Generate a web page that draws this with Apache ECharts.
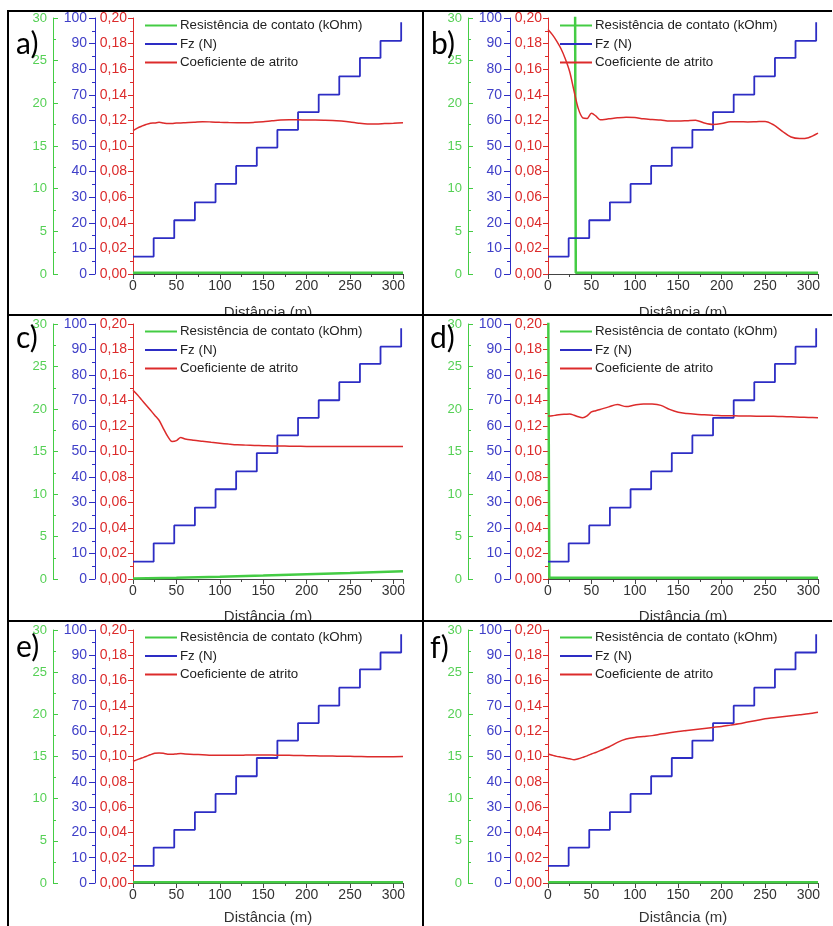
<!DOCTYPE html>
<html>
<head>
<meta charset="utf-8">
<script src="https://cdn.jsdelivr.net/npm/echarts@6/dist/echarts.min.js"></script>
<style>
  html, body { margin: 0; padding: 0; background: #fff; }
  #main { width: 833px; height: 926px; }
</style>
</head>
<body>
<div id="main"></div>
<script>
  // distancia (m) comum as curvas de atrito
  const distancia = [0, 5, 10, 15, 20, 25, 30, 35, 40, 45, 50, 55, 60, 70, 80, 90, 100, 110, 120, 130,
    140, 150, 160, 170, 180, 190, 200, 210, 220, 230, 240, 250, 260, 270, 280, 290, 300, 311]

  const atritoA = [0.112, 0.114, 0.1155, 0.1168, 0.1178, 0.118, 0.1185, 0.118, 0.1175, 0.1175, 0.118, 0.118, 0.1182,
    0.1185, 0.119, 0.1188, 0.1185, 0.1183, 0.1182, 0.1182, 0.1185, 0.119, 0.1197, 0.1203, 0.1205, 0.1205, 0.1203,
    0.1203, 0.1202, 0.12, 0.1195, 0.1188, 0.1178, 0.1172, 0.1172, 0.1175, 0.1178, 0.1182]
  const atritoB = [0.191, 0.187, 0.182, 0.176, 0.168, 0.158, 0.143, 0.129, 0.122, 0.1215, 0.1255, 0.1235, 0.1205,
    0.1212, 0.122, 0.1225, 0.1222, 0.1212, 0.1207, 0.1203, 0.1195, 0.1195, 0.1198, 0.1202, 0.118, 0.1168, 0.1175,
    0.119, 0.119, 0.1188, 0.119, 0.1192, 0.1165, 0.1115, 0.107, 0.1058, 0.1065, 0.110]
  const atritoC = [0.148, 0.1445, 0.1405, 0.1365, 0.1325, 0.1285, 0.1245, 0.118, 0.1118, 0.1078, 0.1085, 0.111, 0.1098,
    0.1088, 0.108, 0.1072, 0.1065, 0.1058, 0.1052, 0.105, 0.1048, 0.1046, 0.1044, 0.1043, 0.1042, 0.1041, 0.104,
    0.104, 0.104, 0.104, 0.104, 0.104, 0.104, 0.104, 0.104, 0.104, 0.104, 0.104]
  const atritoD = [0.1278, 0.128, 0.1286, 0.129, 0.1292, 0.1294, 0.1285, 0.1272, 0.1265, 0.128, 0.131, 0.132, 0.133,
    0.135, 0.1368, 0.1352, 0.1365, 0.1373, 0.1372, 0.1362, 0.133, 0.1308, 0.1298, 0.1292, 0.1288, 0.1284, 0.1281,
    0.128, 0.1279, 0.1278, 0.1277, 0.1277, 0.1276, 0.1274, 0.1272, 0.1269, 0.1267, 0.1265]
  const atritoE = [0.0962, 0.0975, 0.0988, 0.1, 0.1014, 0.1025, 0.1028, 0.1025, 0.1018, 0.1017, 0.102, 0.1023, 0.102,
    0.1016, 0.1014, 0.101, 0.1009, 0.101, 0.101, 0.1011, 0.1012, 0.1012, 0.1011, 0.101, 0.1009, 0.1008, 0.1006,
    0.1005, 0.1004, 0.1003, 0.1002, 0.1001, 0.1, 0.0999, 0.0999, 0.0999, 0.0999, 0.1]
  const atritoF = [0.102, 0.101, 0.1001, 0.0995, 0.0988, 0.0982, 0.0975, 0.0982, 0.0993, 0.1005, 0.102, 0.1032, 0.1046,
    0.1075, 0.1112, 0.1138, 0.1151, 0.1158, 0.1165, 0.1177, 0.1188, 0.1198, 0.1206, 0.1214, 0.1222, 0.123, 0.1238,
    0.1248, 0.1258, 0.1272, 0.1285, 0.1298, 0.1306, 0.1314, 0.1322, 0.133, 0.1338, 0.135]

  // Fz (N) em degraus
  const fzDist = [0, 23.8, 47.5, 71.3, 95.1, 118.8, 142.6, 166.3, 190.1, 213.9, 237.6, 261.4, 285.1, 308.9]
  const fz = [6.8, 14, 21, 28, 35.2, 42.2, 49.4, 56.3, 63.2, 70.1, 77.2, 84.4, 91.1, 98.3]

  // resistencia de contato (kOhm)
  const resistDistA = [0, 311]
  const resistA = [0.15, 0.15]
  const resistDistB = [0, 31, 32, 311]
  const resistB = [40, 40, 0.15, 0.15]
  const resistDistC = [0, 50, 100, 150, 200, 250, 311]
  const resistC = [0.05, 0.15, 0.27, 0.4, 0.55, 0.7, 0.92]
  const resistDistD = [0, 1.5, 311]
  const resistD = [40, 0.15, 0.15]
  const resistDistE = [0, 311]
  const resistE = [0.1, 0.1]
  const resistDistF = [0, 311]
  const resistF = [0.1, 0.1]

  const rotulos = ['a)', 'b)', 'c)', 'd)', 'e)', 'f)']
  const nomes = ['Resistência de contato (kOhm)', 'Fz (N)', 'Coeficiente de atrito']

  const paineis = [
    { atrito: atritoA, rDist: resistDistA, r: resistA },
    { atrito: atritoB, rDist: resistDistB, r: resistB },
    { atrito: atritoC, rDist: resistDistC, r: resistC },
    { atrito: atritoD, rDist: resistDistD, r: resistD },
    { atrito: atritoE, rDist: resistDistE, r: resistE },
    { atrito: atritoF, rDist: resistDistF, r: resistF }
  ]

  const VERDE = '#44cc44'
  const AZUL = '#2d2dc4'
  const VERMELHO = '#dc2b2b'
  const FONTE = '"Liberation Sans", Arial, sans-serif'

  const colLeft = [133, 548]
  const rowTop = [18, 324, 630]
  const rowHeight = [256, 255, 254]
  const nameGaps = [31, 30, 27]
  const rotuloPos = [[16, 44.5], [431, 44], [16, 338], [430, 338], [16, 647], [430, 648]]

  const zip = (xs, ys) => xs.map((x, i) => [x, ys[i]])

  const grid = []
  const xAxis = []
  const yAxis = []
  const series = []
  const legend = []
  const graphic = []

  paineis.forEach((p, i) => {
    const col = i % 2
    const row = Math.floor(i / 2)
    grid.push({ left: colLeft[col], top: rowTop[row], width: 270, height: rowHeight[row] })

    xAxis.push({
      type: 'value', gridIndex: i, min: 0, max: 311, interval: 50,
      name: 'Distância (m)', nameLocation: 'middle', nameGap: nameGaps[row],
      nameTextStyle: { color: '#333', fontSize: 15, fontFamily: FONTE },
      axisLine: { onZero: false, lineStyle: { color: '#444' } },
      axisTick: { length: 5, lineStyle: { color: '#444' } },
      minorTick: { show: true, splitNumber: 2, length: 3, lineStyle: { color: '#444' } },
      axisLabel: {
        color: '#333', fontSize: 14, fontFamily: FONTE, margin: 5, showMaxLabel: false,
        formatter: v => (v % 50 === 0 ? String(v) : '')
      },
      splitLine: { show: false }
    })

    // eixo vermelho (atrito)
    yAxis.push({
      type: 'value', gridIndex: i, position: 'left', offset: 0, min: 0, max: 0.2, interval: 0.02,
      axisLine: { show: true, lineStyle: { color: VERMELHO } },
      axisTick: { show: true, length: 5, lineStyle: { color: VERMELHO } },
      minorTick: { show: true, splitNumber: 2, length: 3, lineStyle: { color: VERMELHO } },
      axisLabel: { color: VERMELHO, fontSize: 14, fontFamily: FONTE, margin: 6,
        formatter: v => v.toFixed(2).replace('.', ',') },
      splitLine: { show: false }
    })
    // eixo azul (Fz)
    yAxis.push({
      type: 'value', gridIndex: i, position: 'left', offset: 38, min: 0, max: 100, interval: 10,
      axisLine: { show: true, lineStyle: { color: AZUL } },
      axisTick: { show: true, length: 6, lineStyle: { color: AZUL } },
      minorTick: { show: true, splitNumber: 2, length: 3, lineStyle: { color: AZUL } },
      axisLabel: { color: '#4040c8', fontSize: 14, fontFamily: FONTE, margin: 8 },
      splitLine: { show: false }
    })
    // eixo verde (resistencia)
    yAxis.push({
      type: 'value', gridIndex: i, position: 'left', offset: 80, min: 0, max: 30, interval: 5,
      axisLine: { show: true, lineStyle: { color: VERDE } },
      axisTick: { show: true, inside: true, length: 5, lineStyle: { color: VERDE } },
      minorTick: { show: true, splitNumber: 2, length: 3, lineStyle: { color: VERDE } },
      axisLabel: { color: '#55d055', fontSize: 13, fontFamily: FONTE, margin: 6 },
      splitLine: { show: false }
    })

    series.push({
      type: 'line', name: nomes[0], xAxisIndex: i, yAxisIndex: i * 3 + 2,
      data: zip(p.rDist, p.r), showSymbol: false, clip: true,
      lineStyle: { color: VERDE, width: 2.5 }, itemStyle: { color: VERDE }
    })
    series.push({
      type: 'line', name: nomes[1], xAxisIndex: i, yAxisIndex: i * 3 + 1,
      data: zip(fzDist, fz), step: 'end', showSymbol: false,
      lineStyle: { color: AZUL, width: 1.8 }, itemStyle: { color: AZUL }
    })
    series.push({
      type: 'line', name: nomes[2], xAxisIndex: i, yAxisIndex: i * 3,
      data: zip(distancia, p.atrito), smooth: 0.3, showSymbol: false,
      lineStyle: { color: VERMELHO, width: 1.5 }, itemStyle: { color: VERMELHO }
    })

    legend.push({
      left: colLeft[col] + 7, top: rowTop[row] - 4, orient: 'vertical',
      icon: 'rect', itemWidth: 32, itemHeight: 2, itemGap: 5.5, selectedMode: false,
      textStyle: { color: '#222', fontSize: 13.3, fontFamily: FONTE, padding: [0, 0, 0, -2] },
      data: nomes
    })

    graphic.push({
      type: 'text', x: rotuloPos[i][0], y: rotuloPos[i][1], z: 100,
      style: { text: rotulos[i], font: '30px Lato, "Open Sans", sans-serif', fill: '#000', verticalAlign: 'middle' }
    })
  })

  // mascaras brancas que cortam o titulo do eixo x na divisao das celulas
  ;[316, 622].forEach(y => {
    colLeft.forEach(x => {
      graphic.push({ type: 'rect', z: 90, shape: { x: x, y: y, width: 275, height: 6 }, style: { fill: '#fff' } })
    })
  })

  // bordas da tabela
  const bordas = [
    [8, 11, 8, 926], [7, 11, 832, 11], [423, 11, 423, 926], [7, 315, 832, 315], [7, 621, 832, 621]
  ]
  bordas.forEach(b => {
    graphic.push({
      type: 'line', z: 95,
      shape: { x1: b[0], y1: b[1], x2: b[2], y2: b[3] },
      style: { stroke: '#000', lineWidth: 2 }
    })
  })

  const chart = echarts.init(document.getElementById('main'))
  chart.setOption({
    animation: false,
    backgroundColor: '#fff',
    grid: grid,
    xAxis: xAxis,
    yAxis: yAxis,
    legend: legend,
    series: series,
    graphic: graphic
  })
</script>
</body>
</html>
